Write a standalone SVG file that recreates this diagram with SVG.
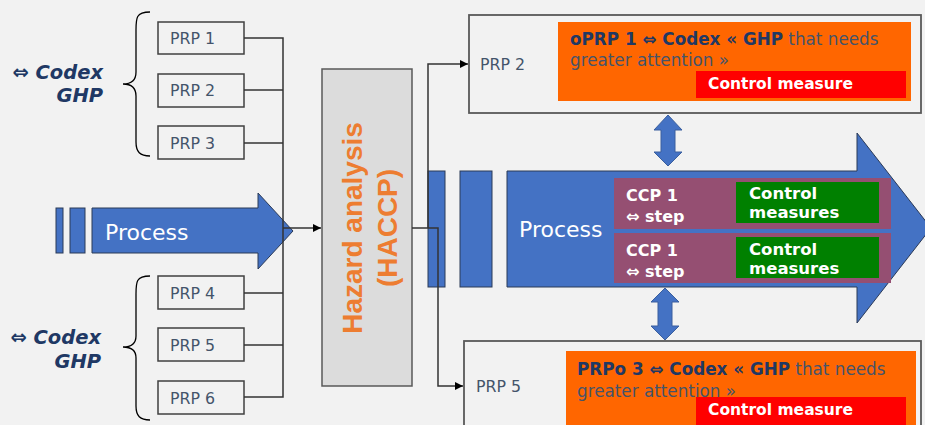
<svg xmlns="http://www.w3.org/2000/svg" width="925" height="425" viewBox="0 0 925 425">
  <defs>
    <marker id="tri" viewBox="0 0 10 10" refX="10" refY="5" markerWidth="8" markerHeight="8" markerUnits="userSpaceOnUse" orient="auto">
      <path d="M0,0 L10,5 L0,10 z" fill="#000"/>
    </marker>
    <style>
      .bg { fill: #f2f2f2; }
      .prp { fill: #f2f2f2; stroke: #404040; stroke-width: 1.5; }
      .prptxt { font-family: "DejaVu Sans", sans-serif; font-size: 15.8px; fill: #44546a; }
      .codex { font-family: "DejaVu Sans", sans-serif; font-size: 19.5px; font-weight: bold; font-style: italic; fill: #203864; text-anchor: end; }
      .brace { fill: none; stroke: #000; stroke-width: 1.3; }
      .blue { fill: #4472c4; stroke: #2b3a57; stroke-width: 1; }
      .dbl { fill: #4472c4; stroke: #3a5f9e; stroke-width: 1; }
      .wproc { font-family: "DejaVu Sans", sans-serif; font-size: 22px; fill: #ffffff; }
      .haz { fill: #dcdcdc; stroke: #595959; stroke-width: 1.5; }
      .haztxt { font-family: "Liberation Sans", Arial, sans-serif; font-size: 28px; font-weight: bold; fill: #ed7d31; text-anchor: middle; }
      .frame { fill: #f2f2f2; stroke: #595959; stroke-width: 1.8; }
      .orange { fill: #ff6600; }
      .red { fill: #ff0000; }
      .ccp { fill: #954f72; }
      .green { fill: #008000; }
      .otxt { font-family: "DejaVu Sans", sans-serif; font-size: 16.8px; fill: #44546a; }
      .otxt .b { font-weight: bold; fill: #203864; }
      .wbold { font-family: "DejaVu Sans", sans-serif; font-weight: bold; fill: #ffffff; }
      .conn { fill: none; stroke: #333; stroke-width: 1.5; }
    </style>
  </defs>

  <rect class="bg" x="0" y="0" width="925" height="425"/>

  <!-- left GHP groups -->
  <g id="codex-top">
    <text class="codex" x="103" y="79">⇔ Codex</text>
    <text class="codex" x="103" y="102">GHP</text>
    <path class="brace" d="M150,12 C136,12 136,18 136,30 V72 C136,80 132,84 123,84 C132,84 136,88 136,96 V142 C136,152 140,156 150,156"/>
  </g>
  <g id="codex-bottom">
    <text class="codex" x="101" y="344">⇔ Codex</text>
    <text class="codex" x="101" y="368">GHP</text>
    <path class="brace" d="M150,276 C136,276 136,282 136,294 V336 C136,343 132,347 123,347 C132,347 136,351 136,358 V406 C136,416 140,420 150,420"/>
  </g>

  <g id="prp1"><rect class="prp" x="158" y="22" width="86" height="32"/><text class="prptxt" x="170" y="44">PRP 1</text></g>
  <g id="prp2"><rect class="prp" x="158" y="74" width="86" height="33"/><text class="prptxt" x="170" y="96">PRP 2</text></g>
  <g id="prp3"><rect class="prp" x="158" y="126" width="86" height="33"/><text class="prptxt" x="170" y="149">PRP 3</text></g>
  <g id="prp4"><rect class="prp" x="158" y="276" width="86" height="33"/><text class="prptxt" x="170" y="299">PRP 4</text></g>
  <g id="prp5"><rect class="prp" x="158" y="328" width="86" height="33"/><text class="prptxt" x="170" y="351">PRP 5</text></g>
  <g id="prp6"><rect class="prp" x="158" y="381" width="86" height="33"/><text class="prptxt" x="170" y="404">PRP 6</text></g>

  <!-- incoming process arrow -->
  <g id="process-in">
    <rect class="blue" x="56" y="208" width="7" height="45"/>
    <rect class="blue" x="70" y="208" width="15" height="45"/>
    <path class="blue" d="M92,208 H258 V193 L293,231 L258,269 V253 H92 z"/>
    <text class="wproc" x="105" y="240">Process</text>
  </g>

  <!-- hazard analysis -->
  <g id="hazard">
    <rect class="haz" x="322" y="69" width="90" height="317"/>
    <text class="haztxt" transform="translate(362,228) rotate(-90)" x="0" y="0">Hazard analysis</text>
    <text class="haztxt" transform="translate(397,228) rotate(-90)" x="0" y="0">(HACCP)</text>
  </g>

  <!-- main process arrow -->
  <g id="process-main">
    <rect class="blue" x="428" y="171" width="17" height="116"/>
    <rect class="blue" x="460" y="171" width="32" height="116"/>
    <path class="blue" d="M507,171 H857 V133 L931,228 L857,323 V287 H507 z"/>
    <text class="wproc" x="519" y="237">Process</text>
  </g>

  <g id="ccp1">
    <rect class="ccp" x="614" y="178" width="277" height="51"/>
    <text class="wbold" font-size="16" x="626" y="201">CCP 1</text>
    <text class="wbold" font-size="16" x="626" y="222">⇔ step</text>
    <rect class="green" x="736" y="182" width="143" height="41"/>
    <text class="wbold" font-size="16.5" x="749" y="199">Control</text>
    <text class="wbold" font-size="16.5" x="749" y="218">measures</text>
  </g>
  <g id="ccp2">
    <rect class="ccp" x="614" y="233" width="277" height="50"/>
    <text class="wbold" font-size="16" x="626" y="256">CCP 1</text>
    <text class="wbold" font-size="16" x="626" y="277">⇔ step</text>
    <rect class="green" x="736" y="237" width="143" height="41"/>
    <text class="wbold" font-size="16.5" x="749" y="255">Control</text>
    <text class="wbold" font-size="16.5" x="749" y="274">measures</text>
  </g>

  <!-- oPRP box -->
  <g id="oprp">
    <rect class="frame" x="469" y="15" width="452" height="98"/>
    <text class="prptxt" x="480" y="70">PRP 2</text>
    <rect class="orange" x="558" y="22" width="353" height="79"/>
    <text class="otxt" x="570" y="45"><tspan class="b">oPRP 1 ⇔ Codex « GHP</tspan> that needs</text>
    <text class="otxt" x="570" y="66">greater attention »</text>
    <rect class="red" x="696" y="71" width="210" height="27"/>
    <text class="wbold" font-size="15.5" x="708" y="89">Control measure</text>
  </g>

  <!-- PRPo box -->
  <g id="prpo">
    <rect class="frame" x="464" y="341" width="457" height="95"/>
    <text class="prptxt" x="476" y="392">PRP 5</text>
    <rect class="orange" x="566" y="351" width="350" height="80"/>
    <text class="otxt" x="577" y="375"><tspan class="b">PRPo 3 ⇔ Codex « GHP</tspan> that needs</text>
    <text class="otxt" x="577" y="397">greater attention »</text>
    <rect class="red" x="696" y="397" width="210" height="28"/>
    <text class="wbold" font-size="15.5" x="708" y="415">Control measure</text>
  </g>

  <!-- two-way links -->
  <g id="link-top">
    <path class="dbl" d="M668,115 L682,130 H675 V152 H682 L668,166 L654,152 H661 V130 H654 z"/>
  </g>
  <g id="link-bottom">
    <path class="dbl" d="M665,288 L679,302 H672 V326 H679 L665,340 L651,326 H658 V302 H651 z"/>
  </g>

  <!-- connectors -->
  <g id="connectors">
    <path class="conn" d="M244,38 H283 V397 H244"/>
    <path class="conn" d="M244,90 H283"/>
    <path class="conn" d="M244,143 H283"/>
    <path class="conn" d="M244,293 H283"/>
    <path class="conn" d="M244,345 H283"/>
    <path class="conn" d="M283,228 H321" marker-end="url(#tri)"/>
    <path class="conn" d="M412,228 H438 V386 H463" marker-end="url(#tri)"/>
    <path class="conn" d="M428,228 V64 H468" marker-end="url(#tri)"/>
  </g>
</svg>
